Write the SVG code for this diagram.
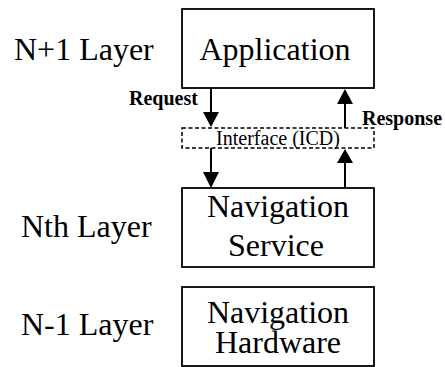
<svg xmlns="http://www.w3.org/2000/svg" width="445" height="367" viewBox="0 0 445 367">
  <style>
    .box { fill: #fff; stroke: #000; stroke-width: 1.8; }
    .iface { fill: none; stroke: #000; stroke-width: 1.5; stroke-dasharray: 4 2.5; }
    text { font-family: 'Liberation Serif', 'DejaVu Serif', serif; fill: #000; }
    .big { font-size: 32px; }
    .lbl { font-size: 20px; font-weight: bold; }
    .ifl { font-size: 20px; }
    .line { stroke: #000; stroke-width: 2; fill: none; }
    .head { fill: #000; stroke: none; }
  </style>

  <!-- layer labels -->
  <g id="layer-labels">
    <text class="big" x="14" y="60">N+1 Layer</text>
    <text class="big" x="21" y="237">Nth Layer</text>
    <text class="big" x="21" y="335">N-1 Layer</text>
  </g>

  <g id="application">
    <rect class="box" x="182" y="9" width="192" height="79"/>
    <text class="big" x="275" y="60" text-anchor="middle">Application</text>
  </g>

  <g id="interface">
    <rect class="iface" x="182" y="128" width="192" height="20"/>
    <text class="ifl" x="278" y="145" text-anchor="middle">Interface (ICD)</text>
  </g>

  <g id="navigation-service">
    <rect class="box" x="182" y="188" width="192" height="79"/>
    <text class="big" x="278" y="217" text-anchor="middle">Navigation</text>
    <text class="big" x="276" y="256" text-anchor="middle">Service</text>
  </g>

  <g id="navigation-hardware">
    <rect class="box" x="182" y="287" width="192" height="79"/>
    <text class="big" x="278" y="323" text-anchor="middle">Navigation</text>
    <text class="big" x="278" y="353" text-anchor="middle">Hardware</text>
  </g>

  <g id="connectors">
    <!-- request: application to interface to service -->
    <line class="line" x1="211" y1="88" x2="211" y2="113"/>
    <polygon class="head" points="203,112 219,112 211,127"/>
    <line class="line" x1="211" y1="148" x2="211" y2="173"/>
    <polygon class="head" points="203,172 219,172 211,188"/>
    <!-- response: service to interface to application -->
    <line class="line" x1="345" y1="188" x2="345" y2="162"/>
    <polygon class="head" points="337,163 353,163 345,149"/>
    <line class="line" x1="345" y1="128" x2="345" y2="103"/>
    <polygon class="head" points="337,104 353,104 345,89"/>
    <text class="lbl" x="129" y="105">Request</text>
    <text class="lbl" x="362" y="125">Response</text>
  </g>
</svg>
